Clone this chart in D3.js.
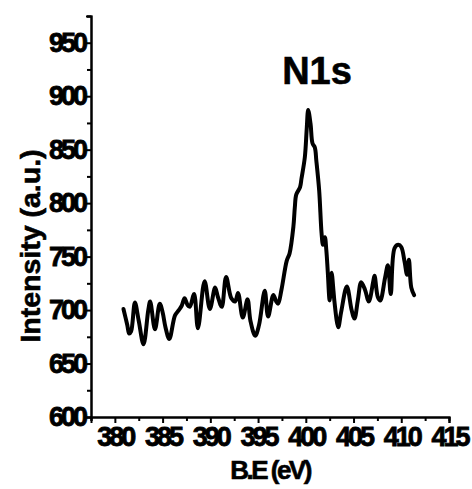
<!DOCTYPE html>
<html>
<head>
<meta charset="utf-8">
<script src="https://cdn.jsdelivr.net/npm/d3@7"></script>
<style>
  html, body { margin: 0; padding: 0; background: #fff; }
  svg { display: block; }
  text { font-family: "Liberation Sans", Arial, sans-serif; font-weight: bold; fill: #000; }
</style>
</head>
<body>
<svg id="chart" width="472" height="489"></svg>
<script>
// N 1s XPS spectrum: binding energy (eV) and intensity (a.u.)
const bindingEnergy = [
  380.9, 381.3, 381.5, 381.7, 382.1, 382.5, 383.0, 383.5, 383.7, 384.2,
  384.7, 385.0, 385.3, 385.7, 386.3, 386.7, 387.0, 387.3, 387.6, 387.85,
  388.3, 388.7, 389.4, 389.95, 390.5, 390.8, 391.2, 391.65, 392.2, 392.6,
  392.9, 393.4, 393.9, 394.2, 394.7, 395.1, 395.7, 396.05, 396.6, 396.9,
  397.1, 397.45, 398.0, 398.3, 398.7, 398.85, 399.0, 399.4, 399.55, 399.9,
  400.1, 400.25, 400.5, 400.7, 400.95, 401.1, 401.4, 401.65, 401.8, 402.0,
  402.15, 402.3, 402.5, 402.7, 402.9, 403.0, 403.4, 403.7, 404.3, 404.8,
  405.1, 405.45, 405.8, 406.2, 406.6, 407.05, 407.2, 407.55, 407.8, 408.3,
  408.6, 408.9, 409.3, 409.7, 410.0, 410.35, 410.6, 410.8, 411.05, 411.35
];
const intensity = [
  701, 686, 678, 680, 707, 690, 668, 700, 708, 682,
  706, 698, 684, 673, 695, 700, 704, 711, 705, 703,
  715, 683, 727, 701, 721, 712, 703, 731, 711, 708,
  716, 693, 710, 690, 676, 686, 718, 694, 714, 708,
  706, 719, 746, 753, 778, 796, 808, 815, 823, 843,
  870, 887, 874, 856, 852, 840, 812, 772, 761, 768,
  756, 736, 709, 735, 718, 708, 684, 698, 722, 700,
  692, 709, 726, 719, 708, 726, 732, 712, 709, 730,
  742, 715, 758, 761, 759, 745, 733, 747, 721, 714
];
const xMajorTicks = [380, 385, 390, 395, 400, 405, 410, 415];
const yMajorTicks = [600, 650, 700, 750, 800, 850, 900, 950];
const xMinorTicks = [377.5, 382.5, 387.5, 392.5, 397.5, 402.5, 407.5, 412.5];
const yMinorTicks = [625, 675, 725, 775, 825, 875, 925, 975];
const titleText = "N1s";
const xTitle = "B.E (eV)";
const yTitle = "Intensity (a.u.)";

const svg = d3.select("#chart");
const plotLeft = 91, plotRight = 449, plotTop = 16, plotBottom = 417;

const x = d3.scaleLinear().domain([377.5, 415]).range([plotLeft, plotRight]);
const y = d3.scaleLinear().domain([600, 975]).range([plotBottom, plotTop]);

const points = bindingEnergy.map((e, i) => [e, intensity[i]]);

// spectrum trace
svg.append("path")
  .datum(points)
  .attr("fill", "none")
  .attr("stroke", "#000")
  .attr("stroke-width", 4)
  .attr("stroke-linejoin", "round")
  .attr("stroke-linecap", "round")
  .attr("d", d3.line().x(d => x(d[0])).y(d => y(d[1])).curve(d3.curveCatmullRom.alpha(0.5)));

// x axis
const gx = svg.append("g").attr("transform", `translate(0,${plotBottom})`);
gx.call(d3.axisBottom(x).tickValues(xMinorTicks).tickSize(4).tickFormat(""));
gx.append("g").call(d3.axisBottom(x).tickValues(xMajorTicks).tickSize(6).tickPadding(4).tickFormat(d3.format("d")));

// y axis
const gy = svg.append("g").attr("transform", `translate(${plotLeft},0)`);
gy.call(d3.axisLeft(y).tickValues(yMinorTicks).tickSize(4).tickFormat(""));
gy.append("g").call(d3.axisLeft(y).tickValues(yMajorTicks).tickSize(5).tickPadding(1).tickFormat(d3.format("d")));

svg.selectAll(".domain").attr("stroke", "#000").attr("stroke-width", 2);
svg.selectAll(".tick line").attr("stroke", "#000").attr("stroke-width", 2);
svg.selectAll(".tick text")
  .attr("font-family", "Liberation Sans, Arial, sans-serif")
  .attr("font-weight", "bold")
  .attr("font-size", 27)
  .attr("letter-spacing", "-3px")
  .attr("stroke", "#000")
  .attr("stroke-width", 0.8)
  .attr("fill", "#000");

// titles
svg.append("text")
  .attr("x", 317).attr("y", 84)
  .attr("text-anchor", "middle")
  .attr("font-size", 38)
  .attr("stroke", "#000")
  .attr("stroke-width", 0.6)
  .text(titleText);

svg.append("text")
  .attr("x", 270).attr("y", 479)
  .attr("text-anchor", "middle")
  .attr("font-size", 26)
  .attr("letter-spacing", "-2.5px")
  .attr("stroke", "#000")
  .attr("stroke-width", 0.6)
  .text(xTitle);

svg.append("text")
  .attr("transform", `translate(40,246) rotate(-90)`)
  .attr("text-anchor", "middle")
  .attr("font-size", 28.5)
  .attr("stroke", "#000")
  .attr("stroke-width", 0.6)
  .text(yTitle);
</script>
</body>
</html>
